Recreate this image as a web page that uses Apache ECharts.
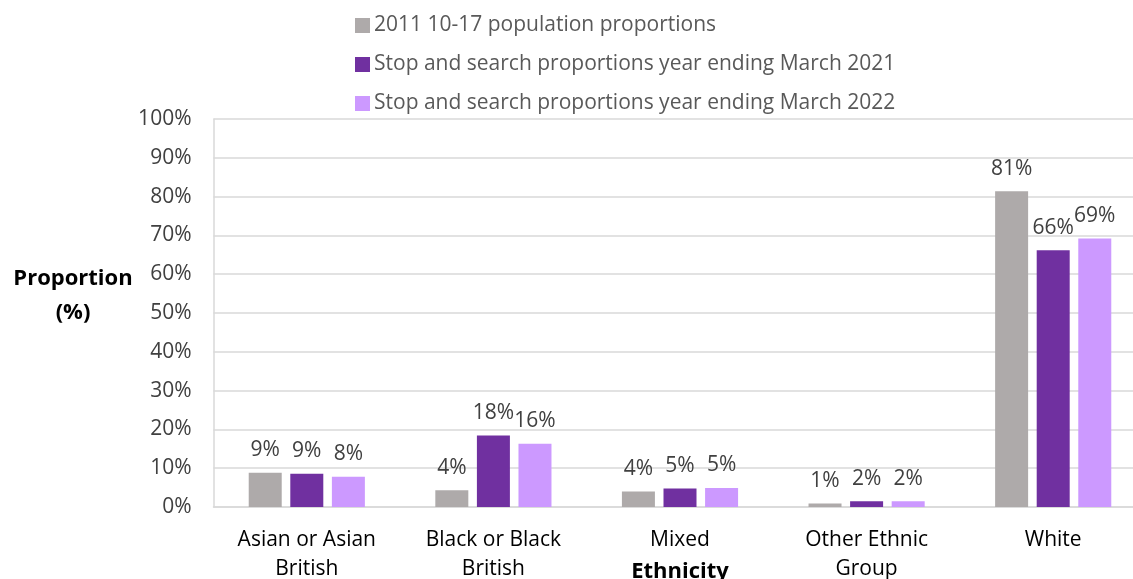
<!DOCTYPE html>
<html>
<head>
<meta charset="utf-8">
<script src="https://cdn.jsdelivr.net/npm/echarts@6/dist/echarts.min.js"></script>
<style>
  html, body { margin: 0; padding: 0; background: #ffffff; }
  #chart { width: 1133px; height: 579px; }
</style>
</head>
<body>
<div id="chart"></div>
<script>
// Ethnic groups on the category axis
const categories = [
  'Asian or Asian\nBritish',
  'Black or Black\nBritish',
  'Mixed',
  'Other Ethnic\nGroup',
  'White'
];

// Series names
const seriesNames = [
  '2011 10-17 population proportions',
  'Stop and search proportions year ending March 2021',
  'Stop and search proportions year ending March 2022'
];

// Proportions (%) per ethnic group
const population2011 = [8.8, 4.3, 4.0, 0.9, 81.4];
const stopSearch2021 = [8.6, 18.4, 4.8, 1.5, 66.2];
const stopSearch2022 = [7.8, 16.3, 4.9, 1.5, 69.2];

// Value axis range
const yMin = 0;
const yMax = 100;
const yStep = 10;

const colors = ['#AEAAAA', '#7030A0', '#CC99FF'];
const FONT = '"Open Sans"';
const FS = 21;

const chart = echarts.init(document.getElementById('chart'), null, { renderer: 'canvas' });

function barSeries(name, data, color) {
  return {
    name: name,
    type: 'bar',
    data: data,
    barWidth: 33,
    barGap: '26%',
    itemStyle: { color: color },
    label: {
      show: true,
      position: 'top',
      distance: 12,
      color: '#404040',
      fontFamily: FONT,
      fontSize: FS,
      formatter: p => Math.round(p.value) + '%'
    }
  };
}

chart.setOption({
  animation: false,
  color: colors,
  legend: {
    orient: 'vertical',
    left: 350,
    top: 10,
    itemWidth: 15,
    itemHeight: 15,
    itemGap: 18,
    icon: 'rect',
    textStyle: {
      color: '#595959',
      fontFamily: FONT,
      fontSize: FS,
      lineHeight: 20,
      padding: [0, 0, 0, -1]
    },
    data: seriesNames
  },
  grid: {
    left: 213.5,
    top: 119,
    width: 933,
    height: 388,
    containLabel: false,
    outerBoundsMode: 'none'
  },
  xAxis: {
    type: 'category',
    data: categories,
    name: 'Ethnicity',
    nameLocation: 'middle',
    nameGap: 54,
    nameMoveOverlap: false,
    nameTextStyle: {
      color: '#000000',
      fontFamily: FONT,
      fontWeight: 'bold',
      fontSize: 22,
      verticalAlign: 'top'
    },
    axisTick: { show: false },
    axisLine: { lineStyle: { color: '#D9D9D9', width: 1.5 } },
    axisLabel: {
      color: '#000000',
      fontFamily: FONT,
      fontSize: FS,
      lineHeight: 29,
      margin: 19,
      interval: 0
    }
  },
  yAxis: {
    type: 'value',
    min: yMin,
    max: yMax,
    interval: yStep,
    axisLine: { show: true, lineStyle: { color: '#D9D9D9', width: 1.5 } },
    axisTick: { show: false },
    splitLine: { lineStyle: { color: '#D9D9D9', width: 1.5 } },
    axisLabel: {
      color: '#404040',
      fontFamily: FONT,
      fontSize: FS,
      margin: 22,
      formatter: '{value}%'
    }
  },
  graphic: [
    {
      type: 'text',
      x: 73,
      y: 296,
      style: {
        text: 'Proportion\n(%)',
        align: 'center',
        verticalAlign: 'middle',
        fill: '#000000',
        font: 'bold 22px ' + FONT,
        lineHeight: 34
      }
    }
  ],
  series: [
    barSeries(seriesNames[0], population2011, colors[0]),
    barSeries(seriesNames[1], stopSearch2021, colors[1]),
    barSeries(seriesNames[2], stopSearch2022, colors[2])
  ]
});
</script>
</body>
</html>
